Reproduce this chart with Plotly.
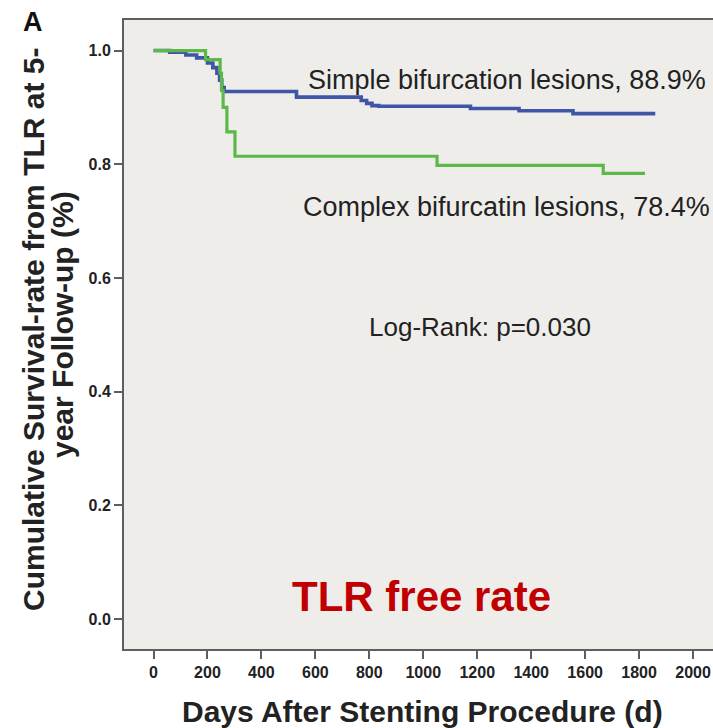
import plotly.graph_objects as go

# Kaplan-Meier step data: days after stenting vs. cumulative TLR-free survival
simple_days = [0, 60, 120, 160, 200, 220, 235, 245, 253, 262, 530, 770, 790, 810, 835, 1175, 1355, 1555, 1860]
simple_surv = [1.0, 0.997, 0.992, 0.987, 0.978, 0.970, 0.960, 0.948, 0.935, 0.928, 0.918, 0.912, 0.907, 0.903, 0.902, 0.898, 0.894, 0.889, 0.889]

complex_days = [0, 193, 247, 252, 258, 272, 302, 1051, 1667, 1822]
complex_surv = [1.0, 0.984, 0.960, 0.930, 0.900, 0.857, 0.814, 0.798, 0.784, 0.784]

x_ticks = [0, 200, 400, 600, 800, 1000, 1200, 1400, 1600, 1800, 2000]
y_ticks = [0.0, 0.2, 0.4, 0.6, 0.8, 1.0]
y_tick_labels = ["0.0", "0.2", "0.4", "0.6", "0.8", "1.0"]

BLUE = "#3f56a6"
GREEN = "#5bb947"
AXIS = "#5e5e5e"
TEXT = "#222222"
FONT = "Liberation Sans, Arial, sans-serif"

fig = go.Figure()
fig.add_trace(go.Scatter(x=simple_days, y=simple_surv, mode="lines",
                         line=dict(color=BLUE, width=3.6, shape="hv"),
                         name="Simple", showlegend=False))
fig.add_trace(go.Scatter(x=complex_days, y=complex_surv, mode="lines",
                         line=dict(color=GREEN, width=3.2, shape="hv"),
                         name="Complex", showlegend=False))

tick_font = dict(size=16, family=FONT, color=TEXT, weight="bold")
fig.update_layout(
    width=713, height=728,
    margin=dict(l=124, r=0, t=20, b=79),
    paper_bgcolor="white",
    plot_bgcolor="#efedea",
    font=dict(family=FONT, color=TEXT),
    xaxis=dict(range=[-109.4, 2074], tickvals=x_ticks, ticks="outside", ticklen=8,
               tickwidth=2, tickcolor=AXIS, showgrid=False, zeroline=False,
               showline=True, linecolor=AXIS, linewidth=2, mirror=True,
               tickfont=tick_font),
    yaxis=dict(range=[-0.0528, 1.0537], tickvals=y_ticks, ticktext=y_tick_labels,
               ticks="outside", ticklen=8, tickwidth=2, tickcolor=AXIS,
               showgrid=False, zeroline=False, showline=True, linecolor=AXIS,
               linewidth=2, mirror=False, tickfont=tick_font),
)

# In-plot labels positioned in data coordinates
fig.add_annotation(text="Simple bifurcation lesions, 88.9%", x=1312, y=0.948,
                   xref="x", yref="y", showarrow=False,
                   font=dict(size=27, color=TEXT, family=FONT))
fig.add_annotation(text="Complex bifurcatin lesions, 78.4%", x=1309, y=0.725,
                   xref="x", yref="y", showarrow=False,
                   font=dict(size=27, color=TEXT, family=FONT))
fig.add_annotation(text="Log-Rank: p=0.030", x=1212, y=0.514,
                   xref="x", yref="y", showarrow=False,
                   font=dict(size=26, color=TEXT, family=FONT))
fig.add_annotation(text="<b>TLR free rate</b>", x=992, y=0.039,
                   xref="x", yref="y", showarrow=False,
                   font=dict(size=42, color="#c00000", family=FONT))

# Panel letter and axis titles placed in pixel-based paper coordinates
W, H = 713, 728
pl, pb = 124, 79
pw, ph = W - pl, H - 20 - pb

def px(xp):
    return (xp - pl) / pw

def py(yp):
    return (H - pb - yp) / ph

def paper_label(text, x, y, size, angle=0, color=TEXT):
    fig.add_annotation(text=text, x=px(x), y=py(y), xref="paper", yref="paper",
                       xanchor="center", yanchor="middle", textangle=angle,
                       showarrow=False, font=dict(size=size, color=color, family=FONT))

paper_label("<b>A</b>", 33, 22, 27, color="#111111")
paper_label("<b>Cumulative Survival-rate from TLR at 5-</b>", 33, 330, 30, angle=-90)
paper_label("<b>year Follow-up (%)</b>", 62, 325, 30, angle=-90)
paper_label("<b>Days After Stenting Procedure (d)</b>", 422, 711, 30)

fig.write_html("out.html")
